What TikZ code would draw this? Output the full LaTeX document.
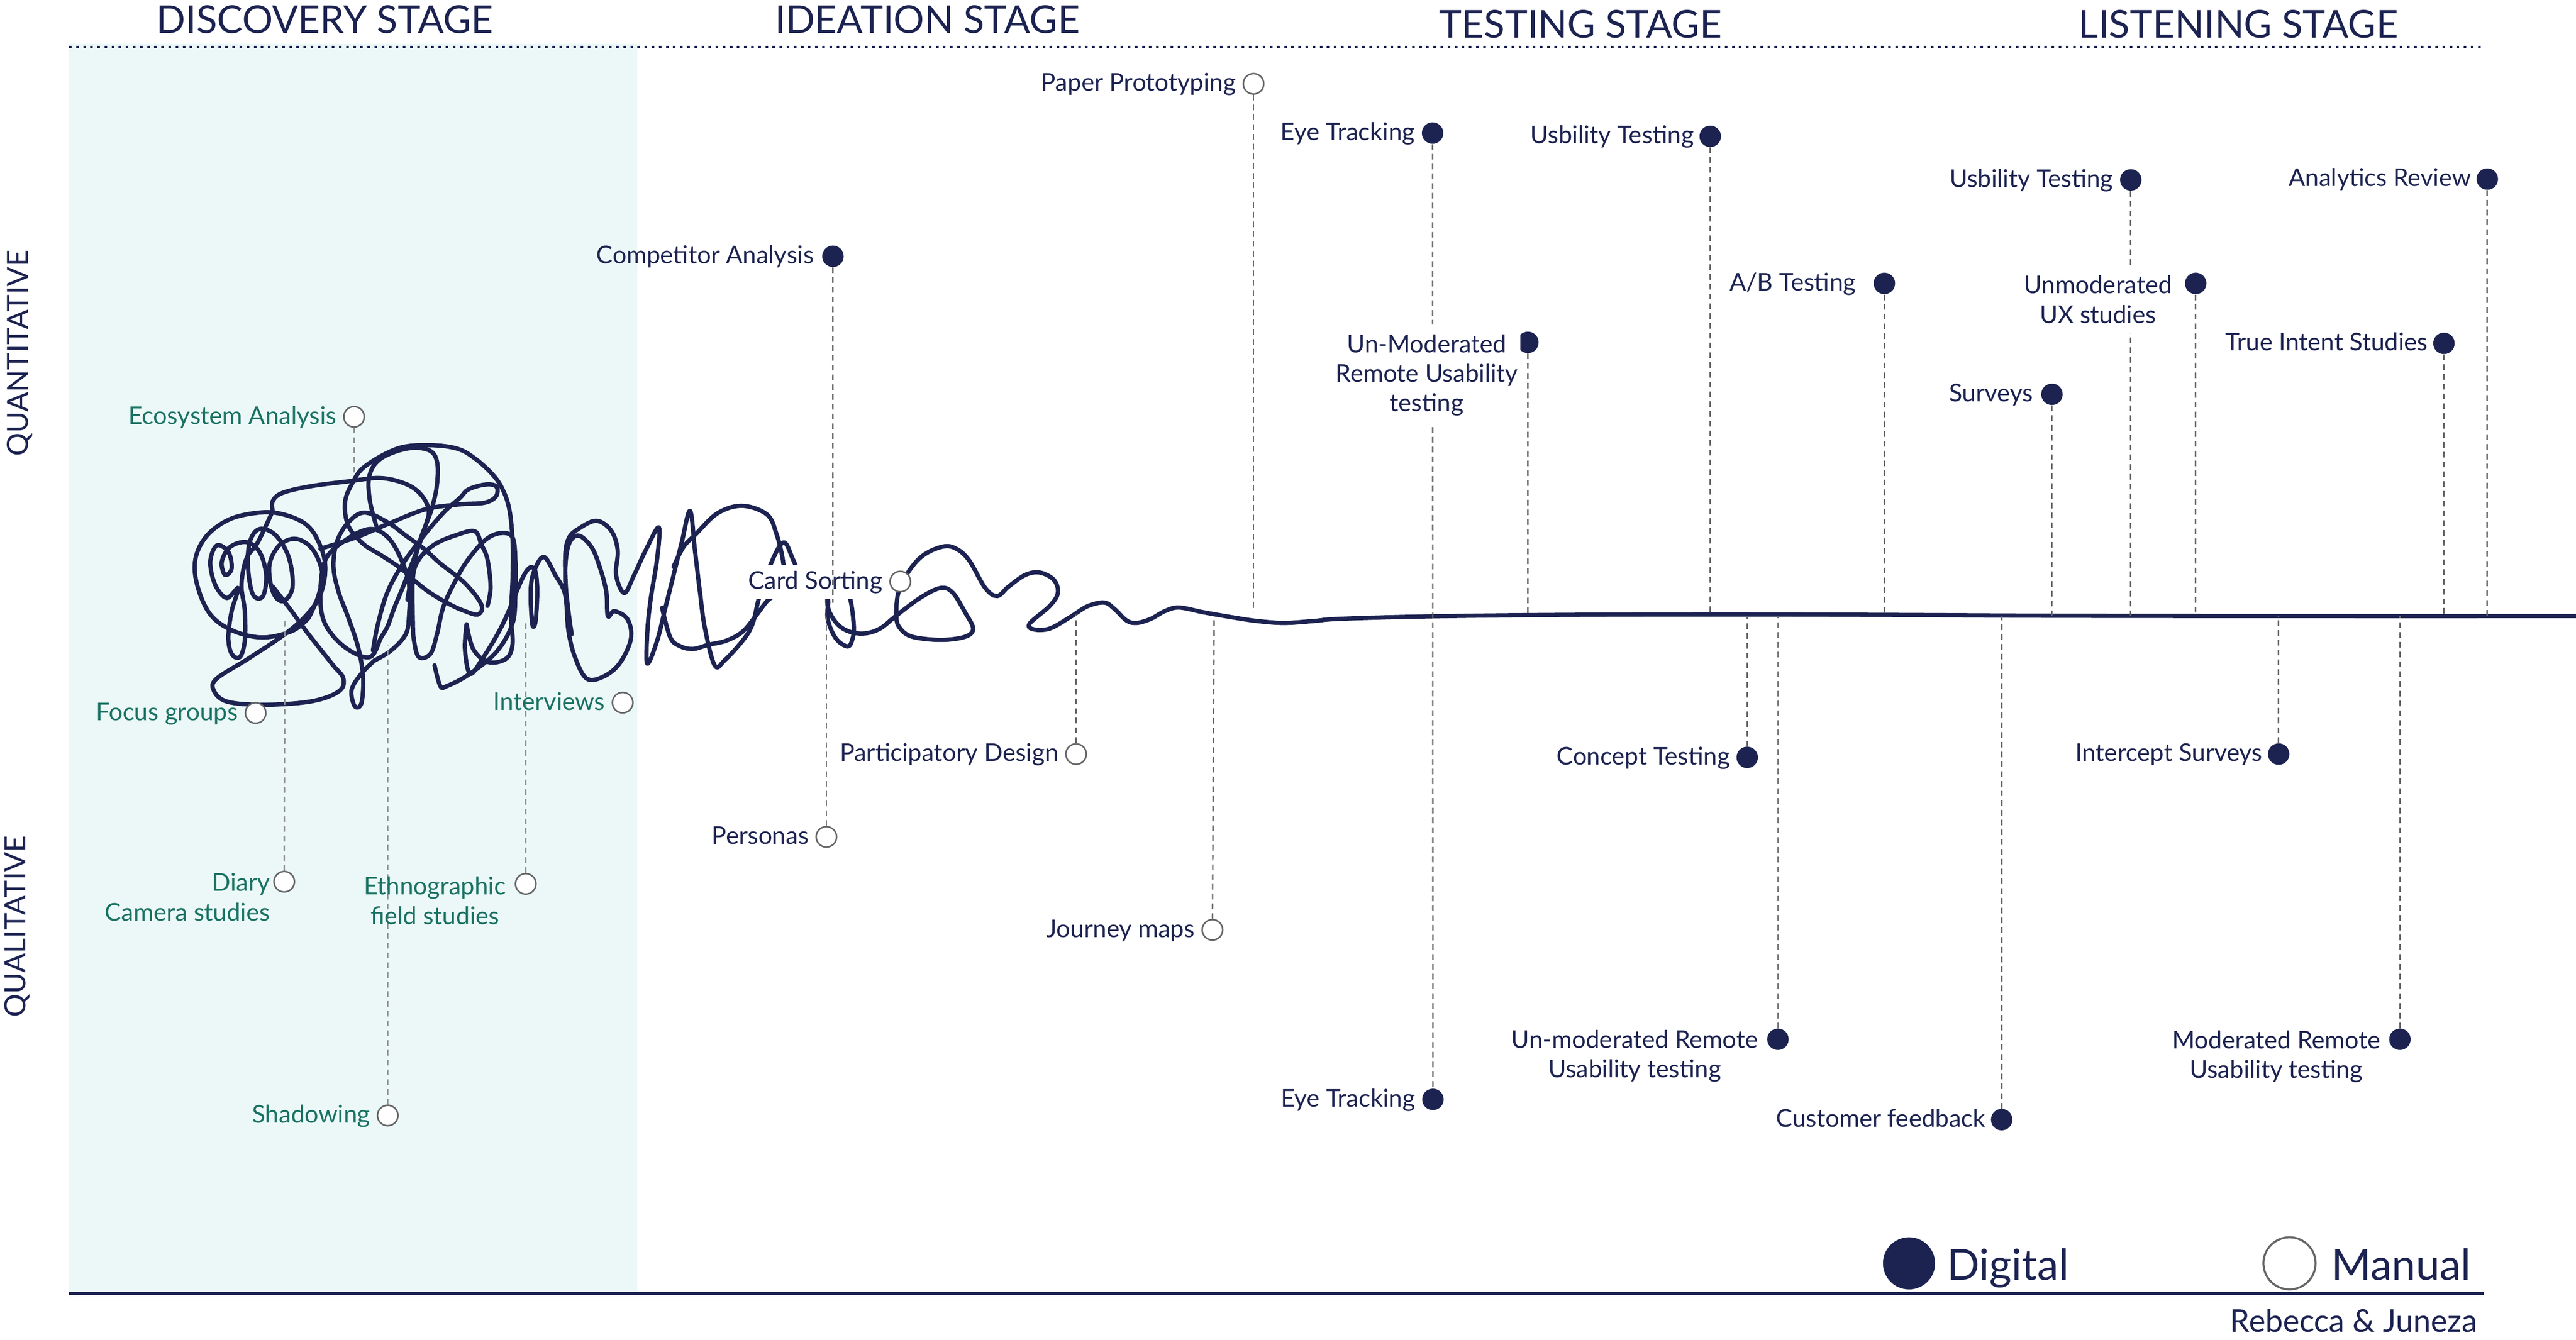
\documentclass[tikz,border=0pt]{standalone}
\usepackage{fontspec}
\setmainfont{Lato}
\definecolor{navy}{HTML}{1C2351}
\definecolor{tealc}{HTML}{1A7263}
\definecolor{cyanbg}{HTML}{ECF8F8}
\definecolor{dgray}{HTML}{666666}
\definecolor{lgray}{HTML}{939393}
\definecolor{mgray}{HTML}{666666}
\begin{document}
\begin{tikzpicture}[x=0.3372mm,y=-0.3372mm,
  lab/.style={font=\fontsize{14.3pt}{17.2pt}\selectfont, text=navy, inner sep=0pt},
  dlab/.style={lab, text=tealc},
  dig/.style={circle, fill=navy, inner sep=0pt, minimum size=4.4mm},
  man/.style={circle, draw=mgray, fill=white, line width=0.9pt, inner sep=0pt, minimum size=4.2mm},
  conn/.style={draw=dgray, line width=0.85pt, dash pattern=on 3.3pt off 2.4pt},
  dconn/.style={conn, draw=lgray},
  scrib/.style={draw=navy, line width=2.5pt, line cap=round, line join=round},
  hdr/.style={font=\fontsize{22.4pt}{26pt}\selectfont, text=navy, inner sep=0pt, anchor=base},
  side/.style={font=\fontsize{17pt}{20pt}\selectfont, text=navy, inner sep=0pt, anchor=base, rotate=90},
  legtxt/.style={font=\fontsize{25pt}{30pt}\selectfont, text=navy, inner sep=0pt, anchor=base west},
  sigtxt/.style={font=\fontsize{18.3pt}{21pt}\selectfont, text=navy, inner sep=0pt, anchor=base east},
  lbl/.style={lab, anchor=base east},
  dlbl/.style={dlab, anchor=base east},
  wbox/.style={fill=white, inner xsep=0.5mm, inner ysep=2mm}
]
\useasboundingbox (0,0) rectangle (1568,815.5);
% background panel and rules
\fill[cyanbg] (42,26.5) rectangle (388,787);
\coordinate (topL) at (42,28.6);
\coordinate (topR) at (1512,28.6);
\coordinate (botL) at (42,787.4);
\coordinate (botR) at (1512,787.4);
\draw[navy, line width=1.3pt, dash pattern=on 1.5pt off 2.65pt] (topL) -- (topR);
\draw[navy, line width=1.8pt] (botL) -- (botR);

% headers
\node[hdr] (h1) at (197.7,20.2) {DISCOVERY STAGE};
\node[hdr] (h2) at (564.5,20.2) {IDEATION STAGE};
\node[hdr] (h3) at (962,23) {TESTING STAGE};
\node[hdr] (h4) at (1362.5,23) {LISTENING STAGE};
\node[side] (quant) at (17,215) {QUANTITATIVE};
\node[side] (qual) at (15.5,564) {QUALITATIVE};

% scribble
\draw[scrib] plot[smooth, tension=0.6] coordinates {(166,357) (176,370) (187,385) (202,404) (209,413) (206,421) (189,427) (160,429) (138,427) (130,420) (132,413) (151,401) (172,387) (186,375) (195,362) (198,345) (194,330) (186,319) (172,313) (158,312) (140,316) (126,326) (119,340) (120,356) (128,374) (142,384) (160,388) (178,384) (188,376)};
\draw[scrib] plot[smooth, tension=0.6] coordinates {(188,376) (194,362) (196,348) (190,334) (180,328) (170,332) (164,344) (166,360) (172,366) (178,358) (176,340) (168,326) (158,322) (152,330) (151,346) (154,362) (160,363) (162,350) (158,336) (150,330) (140,333) (135,342) (137,350) (141,346) (139,336) (132,332) (128,342) (131,356) (138,364) (145,358) (141,372) (139,388) (141,398) (146,400) (149,390) (149,372) (147,356) (150,340) (157,330) (166,311)};
\draw[scrib] plot[smooth, tension=0.6] coordinates {(166,311) (166,305) (172,300) (189,296) (212,293) (232,291) (248,295) (257,302) (261,311) (259,320) (255,332) (250,345) (245,358) (240,370) (236,381) (232,388) (225,400) (210,394) (198,380) (195,363) (198,341) (210,329) (225,322) (236,327) (244,340) (249,356) (249,374) (247,386) (238,396) (228,402)};
\draw[scrib] plot[smooth, tension=0.6] coordinates {(228,402) (220,410) (214,420) (216,430) (220,428) (221,412) (218,394) (212,376) (206,360) (203,345) (205,330) (212,318) (222,312) (236,318) (247,326) (258,334) (268,343) (283,355) (293,368) (291,374) (283,372) (274,368) (262,361) (253,354) (244,346) (232,338) (221,331) (212,320) (210,306) (214,295) (222,284) (242,273) (261,271) (278,273) (289,279) (300,289) (306,298) (310,310) (312,329) (312,352) (311,375) (312,392) (308,401) (297,403) (288,395) (284,380)};
\draw[scrib] plot[smooth, tension=0.6] coordinates {(229,320) (225,304) (225,289) (232,279) (248,273) (261,274) (266,281) (266,295) (263,309) (259,320) (255,331) (251,348) (248,365)};
\draw[scrib] plot[smooth, tension=0.6] coordinates {(195,334) (217,327) (236,319) (259,310) (280,307) (295,306) (302,302) (302,296) (295,295) (285,298) (280,303) (270,312) (258,326) (246,342) (236,360) (230,380) (227,396)};
\draw[scrib] plot[smooth, tension=0.6] coordinates {(264.5,405) (268,417.6) (272,417.6) (285,410.8) (302,397) (311.8,380) (313.7,363) (313.7,340.5) (311.8,326.8) (304,324.6) (295,329) (285,340.5) (278,352) (270,369) (266,386) (262,398) (255,400) (252,390) (251.3,378) (251.3,352) (255,340.5) (264.5,331.4) (277.8,325.7) (289,323.4) (293,331.4) (296.7,340.5) (298.6,357.5) (296.7,368.8)};
\draw[scrib] plot[smooth, tension=0.6] coordinates {(284,380) (283,395) (286,410) (293,402) (306,380) (319,350) (325,346) (327,358) (326,378) (324,380) (323,360) (325,348) (331,339) (338,350) (344,362) (346,384) (350,400) (357,413) (367,412) (377,404) (384,389) (382,377) (374,372) (370,375) (369,360) (365,345) (360,333) (352,326) (346,332) (344,350) (346,372) (348,386) (345,365) (344,340) (346,328) (352,322) (363,317) (372,323) (376,335) (375,350) (380,361) (386,350) (393,335) (401,321) (400,340) (396,365) (394,385) (394,404) (400,390) (405,370) (410,350) (415,330) (420,311) (423,335) (426,360) (429,382) (435,405) (441,402) (452,390) (458,380) (462,364) (468,346) (476.7,330.2) (482.9,341) (488,352) (498,357) (503.8,363.8) (503.8,376.7) (508.7,388.5) (516,393.5) (519,388.5) (519.7,380.6) (517.3,363.8) (512,354) (505,356) (503.8,368.8) (508.7,378.7) (516,384.1) (525.9,385.6) (535.7,382.6) (545.6,374.7) (560.3,363.8) (572.6,357.9) (580,360.9) (587.4,372.7) (592.3,382.6) (587.4,387.6) (572.6,389.5) (555.4,387.6) (548,382.6) (545.6,375.7) (546.8,360.9) (553,348) (562,338) (573.9,332.7) (582,334) (589.9,341.1) (599.7,357.9) (607,362.8) (614,357) (624,350) (632.9,348.5) (641.5,353) (643.9,360.9) (639,368.8) (626.7,379.6) (629.2,383.1) (639,382.6) (651.3,375.7) (662,369) (672.2,366.8) (678.4,370.7) (685.7,377.7) (691.9,379.2) (700.5,376.7) (709,372) (717.7,369.8) (732.5,372.7) (749.7,375.7) (765,378) (781.6,379.2) (800,378) (815.6,376.7) (870,375.2) (950,374.3) (1050,374) (1150,374.3) (1250,374.8) (1400,375) (1568,375)};
\draw[scrib] plot[smooth, tension=0.6] coordinates {(403,370) (408,388) (414.1,393.4) (422,395) (431.1,392.5) (442,390) (451.9,384.6) (460,375) (467,365.8) (472.7,361.8)};
\draw[scrib] plot[smooth, tension=0.6] coordinates {(410,345) (416,333) (423.5,325.2) (436.8,312.4) (451.9,307.9) (467,313.3) (472.7,325.2) (476,338) (478,352) (479,362)};

% Card Sorting label (white box over scribble)
\node[man] (card) at (548,354) {};
\node[lab, fill=white, inner xsep=0.7mm, inner ysep=1.2mm, anchor=base east] (card-l) at ([xshift=-0.6mm,yshift=-1.5mm]card.west) {Card Sorting};

% dots
\node[man] (paper) at (763,51) {};
\node[dig] (eye1) at (872,81) {};
\node[dig] (ust1) at (1041,83) {};
\node[dig] (comp) at (507,156) {};
\node[dig] (unm1) at (930,208.4) {};
\node[dig] (ab) at (1147,172.5) {};
\node[dig] (ust2) at (1297,109.5) {};
\node[dig] (anr) at (1514,109) {};
\node[dig] (unux) at (1336.5,172.5) {};
\node[dig] (tis) at (1487.6,209) {};
\node[dig] (surv) at (1249,240) {};
\node[dig] (conc) at (1063.5,461) {};
\node[dig] (unm2) at (1082.2,632.6) {};
\node[dig] (eye2) at (872.2,669.2) {};
\node[dig] (cust) at (1218.4,681.5) {};
\node[dig] (inter) at (1387,459) {};
\node[dig] (modr) at (1460.8,632.6) {};
\node[man] (eco) at (215.5,253.7) {};
\node[man] (focus) at (155.6,434) {};
\node[man] (intv) at (379,427.7) {};
\node[man] (diary) at (173,536.7) {};
\node[man] (ethno) at (320,538) {};
\node[man] (shad) at (236,679) {};
\node[man] (pers) at (503,509.4) {};
\node[man] (part) at (655,459) {};
\node[man] (jour) at (738,566) {};

% connector ends
\coordinate (paper-e) at (763,373);
\coordinate (ust1-e) at (1041,375);
\coordinate (comp-e) at (507,367);
\coordinate (unm1-e) at (930,375);
\coordinate (ab-e) at (1147,375);
\coordinate (ust2-e) at (1297,375);
\coordinate (anr-e) at (1514,375);
\coordinate (unux-e) at (1336.5,375);
\coordinate (tis-e) at (1487.6,375);
\coordinate (surv-e) at (1249,375);
\coordinate (conc-e) at (1063.5,375);
\coordinate (unm2-e) at (1082.2,375);
\coordinate (cust-e) at (1218.4,375);
\coordinate (inter-e) at (1387,375);
\coordinate (modr-e) at (1460.8,375);
\coordinate (eco-e) at (215.5,290);
\coordinate (diary-e) at (173.4,377);
\coordinate (ethno-e) at (320,377);
\coordinate (shad-e) at (236,393);
\coordinate (pers-e) at (503,376);
\coordinate (part-e) at (655,374);
\coordinate (jour-e) at (739,377);

% connectors
\draw[conn] (paper) -- (paper-e);
\draw[conn] (eye1) -- (eye2);
\draw[conn] (ust1) -- (ust1-e);
\draw[conn] (comp) -- (comp-e);
\draw[conn] (unm1) -- (unm1-e);
\draw[conn] (ab) -- (ab-e);
\draw[conn] (ust2) -- (ust2-e);
\draw[conn] (anr) -- (anr-e);
\draw[conn] (unux) -- (unux-e);
\draw[conn] (tis) -- (tis-e);
\draw[conn] (surv) -- (surv-e);
\draw[conn] (conc) -- (conc-e);
\draw[conn] (unm2) -- (unm2-e);
\draw[conn] (cust) -- (cust-e);
\draw[conn] (inter) -- (inter-e);
\draw[conn] (modr) -- (modr-e);
\draw[dconn] (eco) -- (eco-e);
\draw[dconn] (diary) -- (diary-e);
\draw[dconn] (ethno) -- (ethno-e);
\draw[dconn] (shad) -- (shad-e);
\draw[conn] (pers) -- (pers-e);
\draw[conn] (part) -- (part-e);
\draw[conn] (jour) -- (jour-e);

% labels
\node[lbl] (paper-l) at ([xshift=-1.3mm,yshift=-1.5mm]paper.west) {Paper Prototyping};
\node[lbl] (eye1-l) at ([xshift=-1.3mm,yshift=-1.5mm]eye1.west) {Eye Tracking};
\node[lbl] (ust1-l) at ([xshift=-1.0mm,yshift=-1.5mm]ust1.west) {Usbility Testing};
\node[lbl] (comp-l) at ([xshift=-1.6mm,yshift=-1.5mm]comp.west) {Competitor Analysis};
\node[lab, wbox, align=center, anchor=north] (unm1-l) at (868.5,197.5) {Un-Moderated\\Remote Usability\\testing};
\node[lbl] (ab-l) at ([xshift=-3.5mm,yshift=-1.5mm]ab.west) {A/B Testing};
\node[lbl] (ust2-l) at ([xshift=-1.3mm,yshift=-1.5mm]ust2.west) {Usbility Testing};
\node[lbl] (anr-l) at ([xshift=-1.0mm,yshift=-1.5mm]anr.west) {Analytics Review};
\node[lab, wbox, align=center, anchor=north] (unux-l) at (1277,161.6) {Unmoderated\\UX studies};
\node[lbl] (tis-l) at ([xshift=-1.0mm,yshift=-1.5mm]tis.west) {True Intent Studies};
\node[lbl] (surv-l) at ([xshift=-1.6mm,yshift=-1.5mm]surv.west) {Surveys};
\node[lbl] (conc-l) at ([xshift=-1.2mm,yshift=-1.5mm]conc.west) {Concept Testing};
\node[lab, align=center, anchor=north] (unm2-l) at (995,626.7) {Un-moderated Remote\\Usability testing};
\node[lbl] (eye2-l) at ([xshift=-1.3mm,yshift=-1.5mm]eye2.west) {Eye Tracking};
\node[lbl] (cust-l) at ([xshift=-1.0mm,yshift=-1.5mm]cust.west) {Customer feedback};
\node[lbl] (inter-l) at ([xshift=-1.0mm,yshift=-1.5mm]inter.west) {Intercept Surveys};
\node[lab, align=center, anchor=north] (modr-l) at (1385.5,627) {Moderated Remote\\Usability testing};
\node[dlbl] (eco-l) at ([xshift=-1.3mm,yshift=-1.5mm]eco.west) {Ecosystem Analysis};
\node[dlbl] (focus-l) at ([xshift=-1.3mm,yshift=-1.5mm]focus.west) {Focus groups};
\node[dlbl] (intv-l) at ([xshift=-1.3mm,yshift=-1.5mm]intv.west) {Interviews};
\node[dlab, align=right, anchor=north east] (diary-l) at (164.5,531.4) {Diary\\Camera studies};
\node[dlab, align=center, anchor=north] (ethno-l) at (264.7,533.5) {Ethnographic\\field studies};
\node[dlbl] (shad-l) at ([xshift=-1.3mm,yshift=-1.5mm]shad.west) {Shadowing};
\node[lbl] (pers-l) at ([xshift=-1.3mm,yshift=-1.5mm]pers.west) {Personas};
\node[lbl] (part-l) at ([xshift=-1.3mm,yshift=-1.5mm]part.west) {Participatory Design};
\node[lbl] (jour-l) at ([xshift=-1.3mm,yshift=-1.5mm]jour.west) {Journey maps};

% legend
\node[dig, minimum size=10.7mm] (legd) at (1162,769) {};
\node[legtxt] (legd-t) at (1185,779) {Digital};
\node[man, minimum size=10.7mm, line width=1.2pt] (legm) at (1393.6,769) {};
\node[legtxt] (legm-t) at (1419,779) {Manual};
\node[sigtxt] (sig) at (1508,810.8) {Rebecca \& Juneza};
\end{tikzpicture}
\end{document}
